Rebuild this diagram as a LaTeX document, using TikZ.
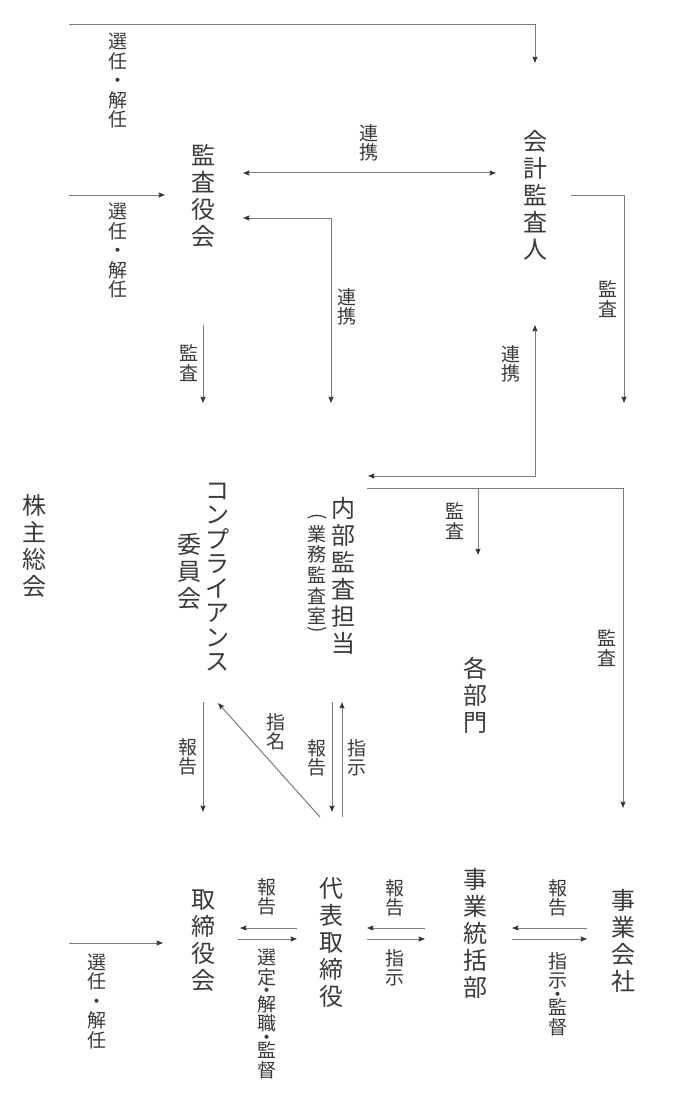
\documentclass[tikz,border=0pt]{standalone}
\usepackage{fontspec}
\usepackage{graphicx}
\setmainfont{Noto Sans CJK JP}
\usetikzlibrary{arrows.meta}
\definecolor{txt}{HTML}{3A3A3A}
\definecolor{ln}{HTML}{7A7A7A}
\definecolor{tipc}{HTML}{333333}
\newcommand{\mylsl}{\lineskiplimit -100pt\relax}
\tikzset{
  big/.style={font=\fontsize{24}{27}\selectfont\mylsl, align=center, text=txt, inner sep=0pt},
  mid/.style={font=\fontsize{19}{20.7}\selectfont\mylsl, align=center, text=txt, inner sep=0pt},
  small/.style={font=\fontsize{19}{19.5}\selectfont\mylsl, align=center, text=txt, inner sep=0pt},
  conn/.style={draw=ln, line width=1pt},
  arr/.style={conn, -{Stealth[length=6.5pt,width=5pt,inset=1pt,color=tipc]}},
  darr/.style={conn, {Stealth[length=6.5pt,width=5pt,inset=1pt,color=tipc]}-{Stealth[length=6.5pt,width=5pt,inset=1pt,color=tipc]}},
}
\begin{document}
\begin{tikzpicture}[x=1pt,y=-1pt]
\useasboundingbox (0,0) rectangle (700,1110);
% main nodes
\node[big] (kabu) at (34,546) {株\\主\\総\\会};
\node[big] (kansa) at (203,196) {監\\査\\役\\会};
\node[big] (kaikei) at (535,195) {会\\計\\監\\査\\人};
\node[big, font=\fontsize{24}{24.5}\selectfont\mylsl] (comp) at (217,577) {コ\\ン\\プ\\ラ\\イ\\ア\\ン\\ス};
\node[big] (iin) at (189,571) {委\\員\\会};
\node[big] (naibu) at (343,576) {内\\部\\監\\査\\担\\当};
\node[mid] (gyomu) at (317,575) {業\\務\\監\\査\\室};
\node[mid] (gyomuL) at (317,518) {\rotatebox[origin=c]{-90}{(}};
\node[mid] (gyomuR) at (317,631) {\rotatebox[origin=c]{-90}{)}};
\node[big] (kakubu) at (475,695) {各\\部\\門};
\node[big] (tori) at (203,941) {取\\締\\役\\会};
\node[big] (daihyo) at (331,943) {代\\表\\取\\締\\役};
\node[big] (jigyotokatsu) at (475,933) {事\\業\\統\\括\\部};
\node[big] (jigyokaisha) at (623,941) {事\\業\\会\\社};
% labels
\node[small] (l1) at (118,81) {選\\任\\・\\解\\任};
\node[small] (l2) at (118,251) {選\\任\\・\\解\\任};
\node[small] (l3) at (369,143) {連\\携};
\node[small] (l4) at (347,307) {連\\携};
\node[small] (l5) at (608,299) {監\\査};
\node[small] (l6) at (511,364) {連\\携};
\node[small] (l7) at (189,363) {監\\査};
\node[small] (l8) at (455,521) {監\\査};
\node[small] (l9) at (607,648) {監\\査};
\node[small] (l10) at (188,757) {報\\告};
\node[small] (l11) at (276,732) {指\\名};
\node[small] (l12) at (317,758) {報\\告};
\node[small] (l13) at (357,758) {指\\示};
\node[small] (l14) at (97,1001) {選\\任\\・\\解\\任};
\node[small] (l15) at (267,897) {報\\告};
\node[small] (l16) at (267,1014) {選\\定\\[-6pt]・\\[-6pt]解\\職\\[-6pt]・\\[-6pt]監\\督};
\node[small] (l17) at (395,898) {報\\告};
\node[small] (l18) at (395,968) {指\\示};
\node[small] (l19) at (558,898) {報\\告};
\node[small] (l20) at (558,994) {指\\示\\[-6pt]・\\[-6pt]監\\督};
% coordinates
\coordinate (a1s) at (69,25); \coordinate (a1m) at (535,25); \coordinate (a1e) at (535,63);
\coordinate (a2s) at (69,195); \coordinate (a2e) at (165,195);
\coordinate (a3s) at (243,173); \coordinate (a3e) at (496,173);
\coordinate (a4s) at (243,218); \coordinate (a4m) at (331,218); \coordinate (a4e) at (331,403);
\coordinate (a5s) at (571,195); \coordinate (a5m) at (624,195); \coordinate (a5e) at (624,403);
\coordinate (a6s) at (368,476); \coordinate (a6m) at (535,476); \coordinate (a6e) at (535,325);
\coordinate (a7s) at (367,488); \coordinate (a7b) at (478,488); \coordinate (a7m) at (623,488); \coordinate (a7e) at (623,808);
\coordinate (a7be) at (478,555);
\coordinate (a8s) at (203,325); \coordinate (a8e) at (203,403);
\coordinate (a9s) at (203,702); \coordinate (a9e) at (203,812);
\coordinate (a10s) at (320,817); \coordinate (a10e) at (218,703);
\coordinate (a11s) at (332,702); \coordinate (a11e) at (332,812);
\coordinate (a12s) at (342,817); \coordinate (a12e) at (342,702);
\coordinate (a13s) at (69,943); \coordinate (a13e) at (163,943);
\coordinate (b1r) at (297,928); \coordinate (b1l) at (240,928);
\coordinate (b2l) at (238,939); \coordinate (b2r) at (297,939);
\coordinate (c1r) at (425,928); \coordinate (c1l) at (367,928);
\coordinate (c2l) at (367,939); \coordinate (c2r) at (425,939);
\coordinate (d1r) at (587,928); \coordinate (d1l) at (512,928);
\coordinate (d2l) at (512,939); \coordinate (d2r) at (587,939);
% connectors
\draw[arr] (a1s) -- (a1m) -- (a1e);
\draw[arr] (a2s) -- (a2e);
\draw[darr] (a3s) -- (a3e);
\draw[darr] (a4s) -- (a4m) -- (a4e);
\draw[arr] (a5s) -- (a5m) -- (a5e);
\draw[darr] (a6s) -- (a6m) -- (a6e);
\draw[arr] (a7s) -- (a7m) -- (a7e);
\draw[arr] (a7b) -- (a7be);
\draw[arr] (a8s) -- (a8e);
\draw[arr] (a9s) -- (a9e);
\draw[arr] (a10s) -- (a10e);
\draw[arr] (a11s) -- (a11e);
\draw[arr] (a12s) -- (a12e);
\draw[arr] (a13s) -- (a13e);
\draw[arr] (b1r) -- (b1l);
\draw[arr] (b2l) -- (b2r);
\draw[arr] (c1r) -- (c1l);
\draw[arr] (c2l) -- (c2r);
\draw[arr] (d1r) -- (d1l);
\draw[arr] (d2l) -- (d2r);
\end{tikzpicture}
\end{document}
